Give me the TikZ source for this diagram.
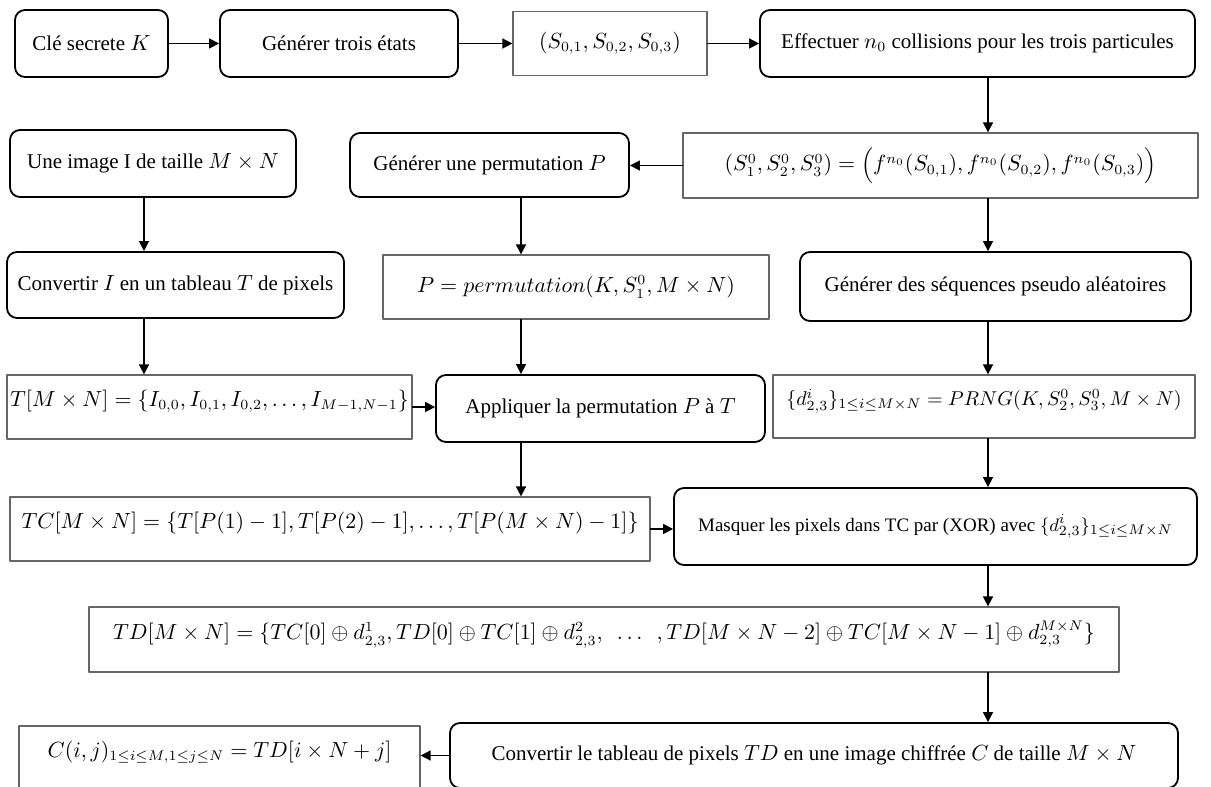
\documentclass[tikz,border=0pt]{standalone}
\usepackage{fontspec}
\setmainfont{Liberation Serif}
\usetikzlibrary{arrows.meta}
\tikzset{
	arrondi/.style={draw, line width=0.9pt, rounded corners=5pt, inner sep=0pt},
	boite/.style={draw=black!60, line width=0.6pt, inner sep=0pt},
	haut/.style={text depth=9pt},
	taille/.style 2 args={minimum width=#1*0.5pt, minimum height=#2*0.5pt},
	fleche/.style={->, line width=0.75pt}}
\begin{document}
\begin{tikzpicture}[x=0.5pt, y=-0.5pt, font=\fontsize{10.5}{12.6}\selectfont, line join=round, line cap=round, >={Triangle[length=5pt,width=5pt]}]
	\path[use as bounding box, clip] (0,0) rectangle (1211,787);
	% ligne du haut
	\node[arrondi, taille={153}{67}] (cle) at (91.5,43.5) {Clé secrete $K$};
	\node[arrondi, taille={238}{67}] (gen3) at (339,43.5) {Générer trois états};
	\node[boite, taille={194}{64}] (etats) at (610,43.5) {$(S_{0,1},S_{0,2},S_{0,3})$};
	\node[arrondi, taille={435}{67}] (collis) at (977.5,43.5) {Effectuer $n_0$ collisions pour les trois particules};
	\node[boite, taille={515}{65}] (sinit) at (940.5,165.5) {$(S_1^0,S_2^0,S_3^0)=\Bigl(f^{n_0}\bigl(S_{0,1}\bigr),f^{n_0}\bigl(S_{0,2}\bigr),f^{n_0}\bigl(S_{0,3}\bigr)\Bigr)$};
	\node[arrondi, taille={286}{67}] (image) at (153,163.5) {Une image I de taille $M\times N$};
	\node[arrondi, taille={279}{64}] (genperm) at (489.5,165) {Générer une permutation $P$};
	% colonnes
	\node[arrondi, taille={337}{66}] (convI) at (175.5,285) {Convertir $I$ en un tableau $T$ de pixels};
	\node[boite, taille={386}{64}] (perm) at (576,287) {$P=permutation(K,S_1^0,M\times N)$};
	\node[arrondi, taille={391}{69}] (seq) at (995.5,286.5) {Générer des séquences pseudo aléatoires};
	\node[boite, haut, taille={405}{64}] (tab) at (209.5,407) {$T[M\times N]=\{I_{0,0},I_{0,1},I_{0,2},\dots,I_{M-1,N-1}\}$};
	\node[arrondi, taille={329}{67}] (appl) at (600.5,408.5) {Appliquer la permutation $P$ à $T$};
	\node[boite, haut, taille={422}{63}, font=\fontsize{10}{12}\selectfont] (prng) at (984,406.5) {$\{d_{2,3}^i\}_{1\le i\le M\times N}=PRNG(K,S_2^0,S_3^0,M\times N)$};
	\node[boite, haut, taille={640}{64}] (tc) at (330,529) {$TC[M\times N]=\{T[P(1)-1],T[P(2)-1],\dots,T[P(M\times N)-1]\}$};
	\node[arrondi, taille={523}{77}, font=\fontsize{9.5}{11.4}\selectfont] (masq) at (935.5,526.5) {Masquer les pixels dans TC par (XOR) avec $\{d_{2,3}^i\}_{1\le i\le M\times N}$};
	\node[boite, haut, taille={1030}{65}] (td) at (604,639.5) {$TD[M\times N]=\{TC[0]\oplus d_{2,3}^1,TD[0]\oplus TC[1]\oplus d_{2,3}^2,\ \ \dots\ \ ,TD[M\times N-2]\oplus TC[M\times N-1]\oplus d_{2,3}^{M\times N}\}$};
	% ligne du bas
	\node[boite, haut, taille={401}{64}] (chiff) at (219.5,758) {$C(i,j)_{1\le i\le M,1\le j\le N}=TD[i\times N+j]$};
	\node[arrondi, taille={728}{65}] (conv) at (814,755.5) {Convertir le tableau de pixels $TD$ en une image chiffrée $C$ de taille $M\times N$};
	% fleches
	\coordinate (axeI) at (144,0);
	\coordinate (axeP) at (521,0);
	\coordinate (axeD) at (988,0);
	\foreach \a/\b in {cle/gen3, gen3/etats, etats/collis, tab/appl, tc/masq} \draw[fleche] (\a.east) -- (\a.east -| \b.west);
	\foreach \a/\b in {sinit/genperm, conv/chiff} \draw[fleche] (\a.west) -- (\a.west -| \b.east);
	\foreach \a/\b in {image/convI, convI/tab} \draw[fleche] (\a.south -| axeI) -- (\b.north -| axeI);
	\foreach \a/\b in {genperm/perm, perm/appl, appl/tc} \draw[fleche] (\a.south -| axeP) -- (\b.north -| axeP);
	\foreach \a/\b in {collis/sinit, sinit/seq, seq/prng, prng/masq, masq/td, td/conv} \draw[fleche] (\a.south -| axeD) -- (\b.north -| axeD);
\end{tikzpicture}
\end{document}
